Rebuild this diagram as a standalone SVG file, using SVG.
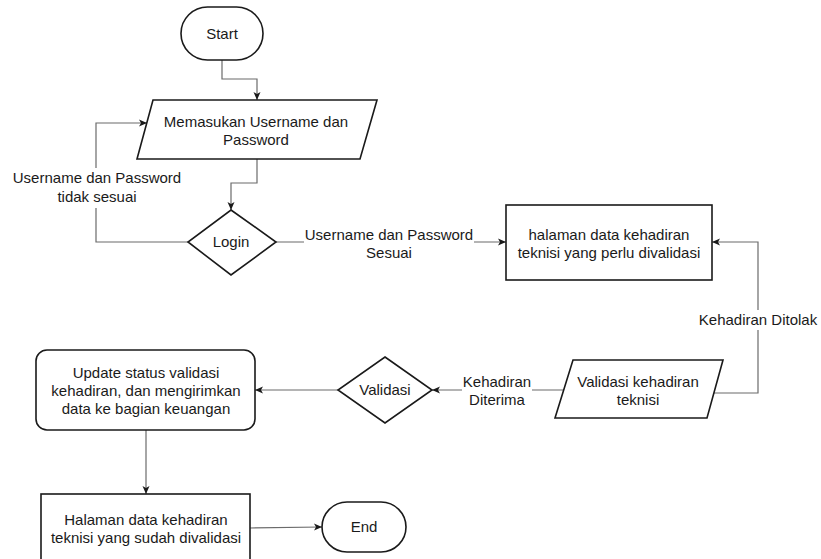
<svg xmlns="http://www.w3.org/2000/svg" width="821" height="559" viewBox="0 0 821 559">
  <style>
    .shape { fill: #ffffff; stroke: #1a1a1a; stroke-width: 1.6; }
    .edge { fill: none; stroke: #6b6b6b; stroke-width: 1.2; }
    .arrowed { marker-end: url(#arrow); }
    text { font-family: "Liberation Sans", Arial, Helvetica, sans-serif; font-size: 15px; fill: #1a1a1a; text-anchor: middle; }
    .bg { fill: #ffffff; stroke: none; }
  </style>
  <defs>
    <marker id="arrow" markerUnits="userSpaceOnUse" markerWidth="10" markerHeight="10" viewBox="0 0 10 10" refX="9" refY="5" orient="auto">
      <path d="M1,1.5 L9,5 L1,8.5 L3,5 Z" fill="#1a1a1a"/>
    </marker>
  </defs>

  <!-- connectors -->
  <g id="connectors">
    <path class="edge arrowed" d="M222,60 V79 H257 V100"/>
    <path class="edge arrowed" d="M257,159 V183 H231 V210"/>
    <path class="edge arrowed" d="M188,242 H96 V123 H147"/>
    <path class="edge arrowed" d="M276,242 H506"/>
    <path class="edge arrowed" d="M714,393 H758 V242 H712"/>
    <path class="edge arrowed" d="M564,390 H432"/>
    <path class="edge arrowed" d="M338,390 H255"/>
    <path class="edge arrowed" d="M146,430 V494"/>
    <path class="edge arrowed" d="M250,528 L322,527"/>

    <!-- edge labels -->
    <rect class="bg" x="12" y="168" width="172" height="40"/>
    <text x="97" y="183">Username dan Password</text>
    <text x="97" y="202">tidak sesuai</text>

    <rect class="bg" x="304" y="226" width="170" height="38"/>
    <text x="389" y="240">Username dan Password</text>
    <text x="389" y="258">Sesuai</text>

    <rect class="bg" x="697" y="310" width="122" height="20"/>
    <text x="758" y="325">Kehadiran Ditolak</text>

    <rect class="bg" x="462" y="372" width="70" height="36"/>
    <text x="497" y="387">Kehadiran</text>
    <text x="497" y="405">Diterima</text>
  </g>

  <!-- nodes -->
  <g id="start">
    <rect class="shape" x="181" y="7" width="82" height="53" rx="26.5" ry="26.5"/>
    <text x="222" y="39">Start</text>
  </g>

  <g id="input-login">
    <polygon class="shape" points="153,100 377,100 360,159 137,159"/>
    <text x="256" y="127">Memasukan Username dan</text>
    <text x="256" y="145">Password</text>
  </g>

  <g id="login">
    <polygon class="shape" points="231,210 276,242 231,275 188,242"/>
    <text x="231" y="247">Login</text>
  </g>

  <g id="attendance-page">
    <rect class="shape" x="506" y="205" width="206" height="75"/>
    <text x="609" y="240">halaman data kehadiran</text>
    <text x="609" y="258">teknisi yang perlu divalidasi</text>
  </g>

  <g id="validate-input">
    <polygon class="shape" points="573,360 723,360 707,418 555,418"/>
    <text x="638" y="387">Validasi kehadiran</text>
    <text x="638" y="405">teknisi</text>
  </g>

  <g id="validasi">
    <polygon class="shape" points="385,357 432,390 385,423 338,390"/>
    <text x="385" y="395">Validasi</text>
  </g>

  <g id="update-status">
    <rect class="shape" x="36" y="350" width="219" height="80" rx="11" ry="11"/>
    <text x="146" y="378">Update status validasi</text>
    <text x="146" y="396">kehadiran, dan mengirimkan</text>
    <text x="146" y="414">data ke bagian keuangan</text>
  </g>

  <g id="validated-page">
    <rect class="shape" x="41" y="494" width="209" height="72"/>
    <text x="146" y="525">Halaman data kehadiran</text>
    <text x="146" y="543">teknisi yang sudah divalidasi</text>
  </g>

  <g id="end">
    <rect class="shape" x="322" y="502" width="84" height="50" rx="25" ry="25"/>
    <text x="364" y="532">End</text>
  </g>
</svg>
